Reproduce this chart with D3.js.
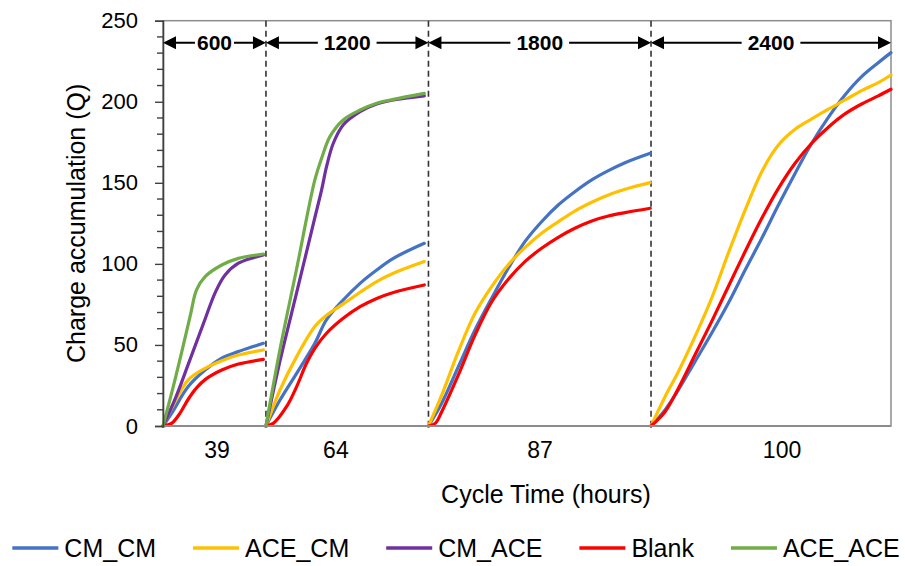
<!DOCTYPE html>
<html>
<head>
<meta charset="utf-8">
<script src="https://cdn.jsdelivr.net/npm/d3@7"></script>
<style>
  html, body { margin: 0; padding: 0; background: #fff; }
  svg { display: block; font-family: Arial, "Liberation Sans", sans-serif; }
</style>
</head>
<body>
<svg id="chart" width="905" height="566"></svg>
<script>
// ---------------- DATA ----------------
// segment boundaries along the time axis (hours, cumulative)
const segBounds = [0, 39.6, 102.1, 187.7, 280];
const segLabels = ["600", "1200", "1800", "2400"];
const catLabels = ["39", "64", "87", "100"];
const catPos = [20.8, 66.5, 145, 238.1];
const yTicks = [0, 50, 100, 150, 200, 250];
const seriesNames = ["CM_CM", "ACE_CM", "CM_ACE", "Blank", "ACE_ACE"];
const seriesColors = ["#4472C4", "#FFC000", "#7030A0", "#FF0000", "#70AD47"];

// each series: one array of [local hours, charge] per segment (null = no data)
const CM_CM = [
  [[0,0],[3.3,7.8],[9.7,24.3],[16.2,34.5],[22.6,41.8],[29,45.9],[38.6,51]],
  [[0,0],[5.4,16],[11.8,32.5],[18.8,51],[23.3,65.6],[29.7,77.7],[36.2,88],[42.6,96.2],[49,103.4],[60.9,112.7]],
  [[0,0],[5.1,14],[11.5,36.6],[17.9,59.2],[24.3,78.8],[30.7,97.3],[37.1,113.7],[43.5,126],[49.9,136.3],[56.3,144.5],[62.8,151.8],[69.2,157.5],[75.6,162.4],[85.3,168.2]],
  [[0,0],[5.4,9.9],[10.5,22.2],[16.9,39.7],[23.3,57.2],[29.7,75.7],[36.2,96.2],[42.6,115.8],[49,136.3],[55.4,155.8],[61.8,174.4],[68.2,190.4],[74.6,204.2],[81,215.5],[87.4,224.1],[92.3,230.3]]
];
const ACE_CM = [
  [[0,0],[3.3,10.9],[9.7,28.4],[16.2,35.6],[22.6,40.3],[29,43.8],[38.6,46.9]],
  [[0,0],[5.4,22.2],[11.8,42.8],[18.8,61.3],[23.3,68.3],[29.7,75.3],[36.2,82.5],[42.6,89.1],[49,94.2],[60.9,101.4]],
  [[0,0],[5.1,19],[11.5,46],[17.9,69.5],[24.3,86],[30.7,99.5],[37.1,110],[43.5,118.9],[49.9,126],[56.3,132.6],[62.8,138],[69.2,142.5],[75.6,146],[85.3,150.1]],
  [[0,0],[5.4,18.1],[10.5,33.5],[16.9,55.1],[23.3,78.8],[29.7,106.5],[36.2,133.2],[42.6,156.9],[49,173.3],[55.4,183],[61.8,189.4],[68.2,195.4],[74.6,201.1],[81,206.9],[87.4,211.8],[92.3,216.5]]
];
const CM_ACE = [
  [[0,0],[5,18],[9.7,38],[16.2,66],[20,82],[23.8,93],[29,100.4],[35.4,104.1],[38.6,105.5]],
  [[0,0],[5.4,40.1],[11.8,82.2],[18.8,128.5],[21.4,145.6],[23.3,160],[25.9,174.4],[29.7,185.7],[36.2,193.9],[42.6,198.6],[49,201.1],[60.9,203.6]],
  null,
  null
];
const Blank = [
  [[0,0],[3.3,1.6],[6.5,7.8],[9.7,16.5],[12.9,23.5],[16.2,28.6],[22.6,34.5],[29,38.2],[38.6,41.1]],
  [[0,0],[2.8,1.6],[7.9,11.9],[11.8,24.3],[15.6,38.7],[18.8,47.9],[23.3,57.2],[29.7,66.4],[36.2,73.6],[42.6,78.7],[49,82.4],[60.9,87]],
  [[0,0],[2.6,1.6],[5.1,8.8],[11.5,31.5],[17.9,56.1],[24.3,76.5],[30.7,90.5],[37.1,101.4],[43.5,109.6],[49.9,116.4],[56.3,122],[62.8,126.5],[69.2,129.5],[75.6,131.6],[85.3,134.3]],
  [[0,0],[5.4,8.8],[10.5,23.2],[16.9,43.8],[23.3,64.4],[29.7,85.9],[36.2,107.6],[42.6,128.1],[49,146.6],[55.4,162.1],[61.8,174.4],[68.2,184.3],[74.6,192.5],[81,198.6],[87.4,203.6],[92.3,207.7]]
];
const ACE_ACE = [
  [[0,0],[4.6,28.4],[10.4,67.4],[12.9,83.9],[16.2,92.1],[22.6,99.3],[29,103.4],[38.6,106.1]],
  [[0,0],[5.4,47.3],[11.8,97],[18.8,151.8],[21.4,165.1],[24.6,178.5],[29.7,188.8],[36.2,194.9],[42.6,199.1],[49,201.5],[60.9,205.2]],
  null,
  null
];
const seriesData = [CM_CM, ACE_CM, CM_ACE, Blank, ACE_ACE];

// ---------------- LAYOUT ----------------
const W = 905, H = 566;
const margin = { left: 163, right: 14, top: 20.7, bottom: 140 };
const svg = d3.select("#chart");

const x = d3.scaleLinear().domain([segBounds[0], segBounds[segBounds.length - 1]])
  .range([margin.left, W - margin.right]);
const y = d3.scaleLinear().domain([0, 250]).range([H - margin.bottom, margin.top]);

const frameColor = "#8c8c8c";
const axisColor = "#404040";

// plot frame (top and right borders)
svg.append("rect")
  .attr("x", x.range()[0]).attr("y", y(250))
  .attr("width", x.range()[1] - x.range()[0]).attr("height", y(0) - y(250))
  .attr("fill", "none").attr("stroke", frameColor).attr("stroke-width", 1.5);

// dashed segment separators
svg.append("g").selectAll("line")
  .data(segBounds.slice(1, -1))
  .join("line")
  .attr("x1", d => x(d)).attr("x2", d => x(d))
  .attr("y1", y(250)).attr("y2", y(0))
  .attr("stroke", "#333").attr("stroke-width", 1.6)
  .attr("stroke-dasharray", "6,4");

// curves
const line = d3.line()
  .x(d => d[0]).y(d => d[1])
  .curve(d3.curveCatmullRom.alpha(0.5));

const gLines = svg.append("g");
seriesData.forEach((segs, si) => {
  segs.forEach((pts, k) => {
    if (!pts) return;
    const off = segBounds[k];
    gLines.append("path")
      .attr("d", line(pts.map(p => [x(off + p[0]), y(p[1])])))
      .attr("fill", "none")
      .attr("stroke", seriesColors[si])
      .attr("stroke-width", 3.2)
      .attr("stroke-linecap", "round")
      .attr("stroke-linejoin", "round");
  });
});

// bottom axis line
svg.append("line")
  .attr("x1", x.range()[0]).attr("x2", x.range()[1])
  .attr("y1", y(0)).attr("y2", y(0))
  .attr("stroke", frameColor).attr("stroke-width", 1.8);

// y axis
const yAxis = d3.axisLeft(y).tickValues(yTicks).tickSize(8).tickPadding(17);
const gy = svg.append("g").attr("transform", `translate(${x.range()[0]},0)`).call(yAxis);
gy.select(".domain").attr("stroke", axisColor).attr("stroke-width", 1.6);
gy.selectAll(".tick line").attr("stroke", axisColor).attr("stroke-width", 1.4);
gy.selectAll(".tick text").attr("font-size", 22).attr("fill", "#000")
  .attr("font-family", "Arial, 'Liberation Sans', sans-serif");
// minor ticks
const minor = d3.range(0, 251, 10).filter(v => v % 50 !== 0);
svg.append("g").selectAll("line").data(minor).join("line")
  .attr("x1", x.range()[0] - 6).attr("x2", x.range()[0])
  .attr("y1", d => y(d)).attr("y2", d => y(d))
  .attr("stroke", axisColor).attr("stroke-width", 1.4);

// category labels
svg.append("g").selectAll("text").data(catLabels).join("text")
  .attr("x", (d, i) => x(catPos[i]))
  .attr("y", y(0) + 32)
  .attr("text-anchor", "middle")
  .attr("font-size", 23)
  .attr("fill", "#000")
  .text(d => d);

// axis titles
svg.append("text")
  .attr("x", 546).attr("y", 503)
  .attr("text-anchor", "middle").attr("font-size", 25).attr("fill", "#000")
  .text("Cycle Time (hours)");
svg.append("text")
  .attr("transform", `translate(85,${(y(0) + y(250)) / 2}) rotate(-90)`)
  .attr("text-anchor", "middle").attr("font-size", 25).attr("fill", "#000")
  .text("Charge accumulation (Q)");

// segment arrows
const arrowY = 42.7;
const gA = svg.append("g");
const gAline = gA.append("g"), gArect = gA.append("g"), gAtext = gA.append("g");
segLabels.forEach((lab, i) => {
  const x0 = x(segBounds[i]), x1 = x(segBounds[i + 1]);
  const head = 13, hw = 6.5;
  gAline.append("line").attr("x1", x0 + head - 1).attr("x2", x1 - head + 1)
    .attr("y1", arrowY).attr("y2", arrowY)
    .attr("stroke", "#000").attr("stroke-width", 2);
  gAline.append("path")
    .attr("d", `M${x0},${arrowY} L${x0 + head},${arrowY - hw} L${x0 + head},${arrowY + hw} Z`)
    .attr("fill", "#000");
  gAline.append("path")
    .attr("d", `M${x1},${arrowY} L${x1 - head},${arrowY - hw} L${x1 - head},${arrowY + hw} Z`)
    .attr("fill", "#000");
  const t = gAtext.append("text")
    .attr("x", (x0 + x1) / 2).attr("y", arrowY)
    .attr("dy", "0.36em")
    .attr("text-anchor", "middle")
    .attr("font-size", 21).attr("font-weight", "bold").attr("fill", "#000")
    .text(lab);
  const bb = t.node().getBBox();
  const pad = i === 0 ? 2 : 6;
  gArect.append("rect")
    .attr("x", bb.x - pad).attr("y", arrowY - 4)
    .attr("width", bb.width + 2 * pad).attr("height", 8)
    .attr("fill", "#fff");
});

// legend
const legY = 548;
const gL = svg.append("g");
const items = seriesNames.map((n, i) => {
  const g = gL.append("g");
  g.append("line").attr("x1", 0).attr("x2", 46).attr("y1", 0).attr("y2", 0)
    .attr("stroke", seriesColors[i]).attr("stroke-width", 3.5);
  const t = g.append("text").attr("x", 52).attr("y", 0).attr("dy", "0.36em")
    .attr("font-size", 25).attr("fill", "#000").text(n);
  return { g, w: 52 + t.node().getComputedTextLength() };
});
const gap = 37;
const total = d3.sum(items, d => d.w) + gap * (items.length - 1);
let cx = 456 - total / 2;
items.forEach(it => {
  it.g.attr("transform", `translate(${cx},${legY})`);
  cx += it.w + gap;
});
</script>
</body>
</html>
